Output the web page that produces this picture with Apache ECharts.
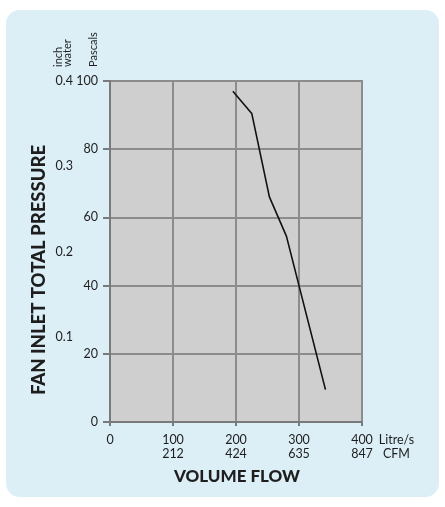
<!DOCTYPE html>
<html>
<head>
<meta charset="utf-8">
<script src="https://cdn.jsdelivr.net/npm/echarts@6/dist/echarts.min.js"></script>
<style>
  html, body { margin: 0; padding: 0; background: #ffffff; }
  #panel {
    position: absolute; left: 6px; top: 10px; width: 433px; height: 487px;
    background: #dceef6; border-radius: 14px;
  }
  #main { position: absolute; left: 0; top: 0; width: 445px; height: 507px; }
</style>
</head>
<body>
<div id="panel"></div>
<div id="main"></div>
<script>
  // fan curve
  var flowLitres = [195, 225, 253, 280, 342];
  var pressurePa = [97, 90.5, 66, 54.5, 9.5];

  // tick labels
  var litreTicks = ['0', '100', '200', '300', '400'];
  var cfmTicks = ['', '212', '424', '635', '847'];

  var font = 'Lato, "Open Sans", sans-serif';
  var txt = '#1e1e1e';

  var myChart = echarts.init(document.getElementById('main'));
  var option = {
    animation: false,
    textStyle: { fontFamily: font },
    grid: {
      left: 110, top: 81, right: 83, bottom: 85,
      show: true, backgroundColor: '#cfcfcf', borderColor: '#8c8c8c', borderWidth: 2
    },
    xAxis: {
      type: 'value', min: 0, max: 400, interval: 100,
      name: 'Litre/s\nCFM', nameLocation: 'end', nameGap: 31,
      nameTextStyle: { color: txt, fontSize: 12.5, fontFamily: font, align: 'center', verticalAlign: 'top', lineHeight: 14, padding: [11, 0, 0, 0] },
      axisLine: { lineStyle: { color: '#7a7a7a', width: 2 } },
      axisTick: { show: true, length: 4, lineStyle: { color: '#7a7a7a', width: 2 } },
      splitLine: { show: true, lineStyle: { color: '#8c8c8c', width: 2 } },
      axisLabel: {
        margin: 11, color: txt, fontSize: 12.5, fontFamily: font, lineHeight: 14,
        formatter: function (v) {
          var i = litreTicks.indexOf(String(v));
          return cfmTicks[i] ? litreTicks[i] + '\n' + cfmTicks[i] : litreTicks[i];
        }
      }
    },
    yAxis: [
      {
        type: 'value', min: 0, max: 100, interval: 20, position: 'left',
        axisLine: { show: true, lineStyle: { color: '#7a7a7a', width: 2 } },
        axisTick: { show: true, length: 7, lineStyle: { color: '#7a7a7a', width: 2 } },
        splitLine: { show: true, lineStyle: { color: '#8c8c8c', width: 2 } },
        axisLabel: { margin: 12, color: txt, fontSize: 12.5, fontFamily: font }
      },
      {
        type: 'value', min: 0, max: 0.4, interval: 0.1, position: 'left', offset: 33,
        axisLine: { show: false }, axisTick: { show: false }, splitLine: { show: false },
        axisLabel: {
          margin: 4, color: txt, fontSize: 12.5, fontFamily: font, showMinLabel: false,
          formatter: function (v) { return v === 0 ? '' : v.toFixed(1); }
        }
      }
    ],
    series: [{
      type: 'line',
      data: flowLitres.map(function (x, i) { return [x, pressurePa[i]]; }),
      showSymbol: false, symbol: 'none',
      lineStyle: { color: '#111111', width: 1.6 }
    }],
    graphic: [
      { type: 'text', x: 63, y: 67, rotation: Math.PI / 2,
        style: { text: 'inch\nwater', font: '11px ' + font, fill: txt, align: 'left', verticalAlign: 'middle', lineHeight: 9 } },
      { type: 'text', x: 93, y: 67, rotation: Math.PI / 2,
        style: { text: 'Pascals', font: '11px ' + font, fill: txt, align: 'left', verticalAlign: 'middle' } },
      { type: 'text', x: 39, y: 270, rotation: Math.PI / 2,
        style: { text: 'FAN INLET TOTAL PRESSURE', font: '900 18.5px ' + font, fill: txt, align: 'center', verticalAlign: 'middle' } },
      { type: 'text', x: 237, y: 477,
        style: { text: 'VOLUME FLOW', font: '900 17px ' + font, fill: txt, align: 'center', verticalAlign: 'middle' } }
    ]
  };
  myChart.setOption(option);
</script>
</body>
</html>
